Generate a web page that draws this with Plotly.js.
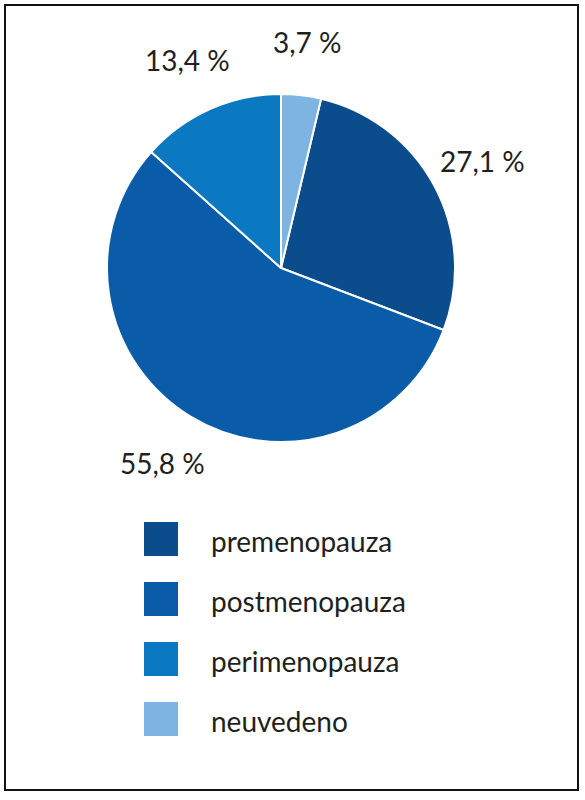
<!DOCTYPE html>
<html>
<head>
<meta charset="utf-8">
<script src="https://cdn.plot.ly/plotly-3.0.1.min.js"></script>
<style>
  body { margin: 0; background: #ffffff; }
  #chart { width: 585px; height: 800px; }
</style>
</head>
<body>
<div id="chart"></div>
<script>
// Chart data
const categories = ["premenopauza", "postmenopauza", "perimenopauza", "neuvedeno"];
const shares = [27.1, 55.8, 13.4, 3.7];
const sliceColors = ["#0b4c8c", "#0a5ca8", "#0b78c2", "#7eb4e2"];

const W = 585, H = 800;
const textColor = "#231f20";
const fontFamily = "Lato, sans-serif";

// Pie placement (pixels)
const cx = 281, cy = 268, R = 174;

// Labels like "27,1 %"
let labels = shares.map(v => v.toFixed(1).replace(".", ",") + " %");

// First slice starts after the "neuvedeno" slice, which sits at 12 o'clock
let total = shares.reduce((a, b) => a + b, 0);
let rotation = shares[shares.length - 1] / total * 360;

let pieTrace = {
    type: "pie",
    labels: categories,
    values: shares,
    textinfo: "none",
    sort: false,
    direction: "clockwise",
    rotation: rotation,
    marker: {
        colors: sliceColors,
        line: { color: "#ffffff", width: 2 }
    },
    domain: {
        x: [(cx - R) / W, (cx + R) / W],
        y: [(H - cy - R) / H, (H - cy + R) / H]
    },
    showlegend: false
};

let shapes = [];
let annotations = [];

// Percentage labels set out from the pie along each slice's middle angle
let start = rotation;
for (let i = 0; i < shares.length; i++) {
    let mid = (start + shares[i] / total * 180) * Math.PI / 180;
    start += shares[i] / total * 360;
    let r = R * 1.31;
    annotations.push({
        xref: "paper", yref: "paper",
        x: (cx + r * Math.sin(mid)) / W,
        y: (H - (cy - r * Math.cos(mid))) / H,
        xanchor: "center", yanchor: "middle",
        text: labels[i], showarrow: false,
        font: { family: fontFamily, size: 28, color: textColor }
    });
}

// Hand-built legend: big squares with labels below the pie
for (let i = 0; i < categories.length; i++) {
    let ly = 539 + i * 60;
    shapes.push({
        type: "rect", xref: "paper", yref: "paper",
        x0: 144 / W, x1: 178 / W,
        y0: (H - ly - 17) / H, y1: (H - ly + 17) / H,
        fillcolor: sliceColors[i], line: { width: 0 }
    });
    annotations.push({
        xref: "paper", yref: "paper",
        x: 209 / W, y: (H - ly - 2) / H,
        xanchor: "left", yanchor: "middle",
        text: categories[i], showarrow: false,
        font: { family: fontFamily, size: 28, color: textColor }
    });
}

// Outer frame
shapes.push({
    type: "rect", xref: "paper", yref: "paper",
    x0: 5 / W, x1: 578 / W, y0: (H - 790) / H, y1: (H - 5) / H,
    line: { color: "#111111", width: 2 }, fillcolor: "rgba(0,0,0,0)"
});

let layout = {
    width: W,
    height: H,
    margin: { l: 0, r: 0, t: 0, b: 0 },
    paper_bgcolor: "#ffffff",
    font: { family: fontFamily, color: textColor },
    shapes: shapes,
    annotations: annotations
};

Plotly.newPlot("chart", [pieTrace], layout, { staticPlot: true });
</script>
</body>
</html>
